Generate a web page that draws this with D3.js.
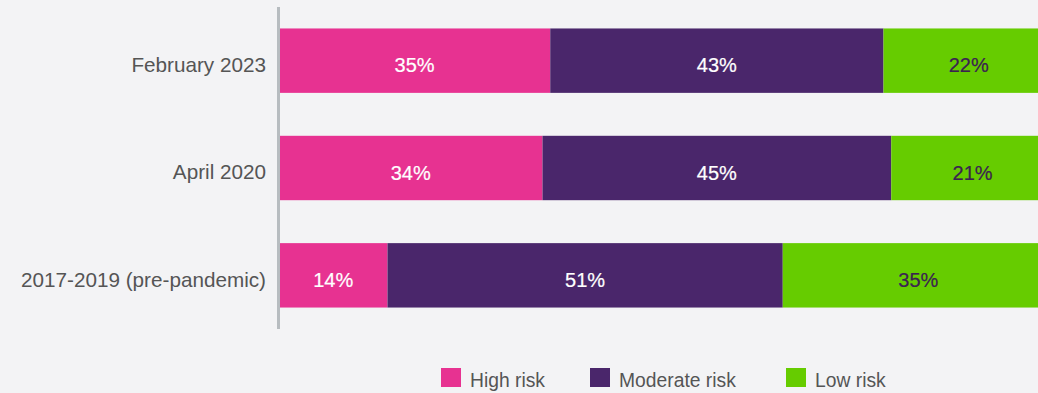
<!DOCTYPE html>
<html>
<head>
<meta charset="utf-8">
<script src="https://cdn.jsdelivr.net/npm/d3@7"></script>
<style>
  html, body { margin: 0; padding: 0; background: #f3f3f5; }
  svg { display: block; }
  text { font-family: "Liberation Sans", Arial, sans-serif; }
</style>
</head>
<body>
<svg id="chart" width="1038" height="393"></svg>
<script>
// Survey periods, top to bottom
const periods = ["February 2023", "April 2020", "2017-2019 (pre-pandemic)"];
// Share of respondents per risk group (%)
const highRisk = [35, 34, 14];
const moderateRisk = [43, 45, 51];
const lowRisk = [22, 21, 35];
const seriesNames = ["High risk", "Moderate risk", "Low risk"];
const seriesColors = ["#e73291", "#4a266b", "#66cc00"];
const labelColors = ["#ffffff", "#ffffff", "#3b2251"];

const rows = periods.map((p, i) => ({
  period: p,
  "High risk": highRisk[i],
  "Moderate risk": moderateRisk[i],
  "Low risk": lowRisk[i]
}));

const stacked = d3.stack().keys(seriesNames)(rows);

const svg = d3.select("#chart");
const x = d3.scaleLinear().domain([0, 100]).range([279, 1054]);
const y = d3.scaleBand().domain(periods).range([7, 329]).paddingInner(0.4).paddingOuter(0.2);

// bars
const layer = svg.append("g").selectAll("g")
  .data(stacked).join("g")
  .attr("fill", (d, i) => seriesColors[i]);

layer.selectAll("rect")
  .data(d => d)
  .join("rect")
  .attr("x", d => x(d[0]))
  .attr("y", d => y(d.data.period))
  .attr("width", d => x(d[1]) - x(d[0]))
  .attr("height", y.bandwidth());

// value labels
stacked.forEach((s, si) => {
  svg.append("g").selectAll("text")
    .data(s).join("text")
    .attr("x", d => (x(d[0]) + x(d[1])) / 2)
    .attr("y", d => y(d.data.period) + y.bandwidth() / 2)
    .attr("dy", "0.575em")
    .attr("text-anchor", "middle")
    .attr("font-size", 20)
    .attr("fill", labelColors[si])
    .attr("stroke", labelColors[si])
    .attr("stroke-width", 0.2)
    .text(d => (d[1] - d[0]) + "%");
});

// category axis
const yAxis = svg.append("g")
  .attr("transform", "translate(278.5,0)")
  .call(d3.axisLeft(y).tickSize(0).tickPadding(12.5));
yAxis.select(".domain").attr("stroke", "#b7bcc0").attr("stroke-width", 3)
  .attr("d", "M0,7V329");
yAxis.selectAll("text")
  .attr("font-size", 20.7)
  .attr("dy", "0.55em")
  .attr("fill", "#555555")
  .style("font-family", "'Liberation Sans', Arial, sans-serif");

// legend
const legendX = [441, 590, 786];
const legend = svg.append("g").selectAll("g")
  .data(seriesNames).join("g")
  .attr("transform", (d, i) => `translate(${legendX[i]},368)`);
legend.append("rect")
  .attr("width", 20).attr("height", 19)
  .attr("fill", (d, i) => seriesColors[i]);
legend.append("text")
  .attr("x", 29).attr("y", 19)
  .attr("font-size", 19.3)
  .attr("fill", "#555555")
  .text(d => d);
</script>
</body>
</html>
